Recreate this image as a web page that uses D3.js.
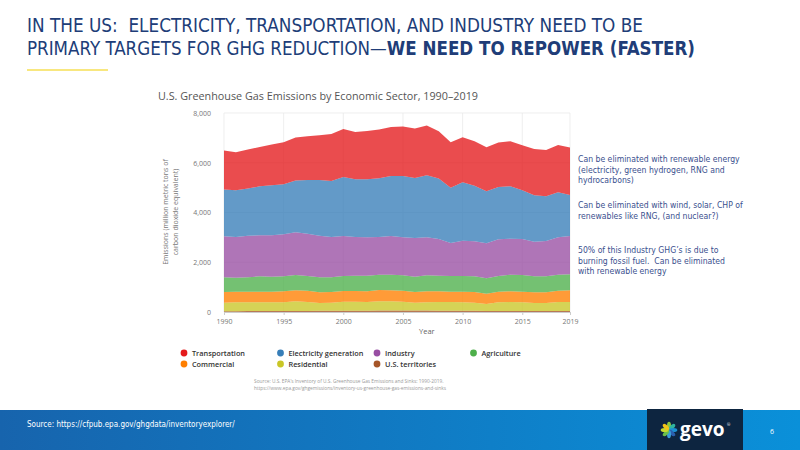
<!DOCTYPE html>
<html>
<head>
<meta charset="utf-8">
<script src="https://cdn.jsdelivr.net/npm/d3@7"></script>
<style>
  body { margin: 0; background: #fff; }
  svg { display: block; }
  text { white-space: pre; }
</style>
</head>
<body>
<svg id="slide" width="800" height="450"></svg>
<script>
// values (million metric tons CO2 eq.)
const years = d3.range(1990, 2020);
const transportation = [1568,1528,1568,1581,1635,1689,1729,1756,1797,1890,1930,1904,1944,1957,1971,1984,1984,1997,1903,1823,1810,1783,1769,1783,1809,1809,1863,1864,1904,1904];
const electricity = [1877,1877,1890,1971,2011,2011,2078,2158,2238,2252,2373,2319,2332,2359,2413,2466,2413,2493,2426,2225,2345,2238,2092,2105,2105,1957,1864,1796,1809,1649];
const industry = [1649,1635,1676,1649,1662,1689,1716,1702,1676,1622,1608,1555,1542,1515,1555,1529,1555,1529,1475,1327,1421,1408,1407,1474,1448,1448,1394,1421,1502,1541];
const agriculture = [590,563,576,616,603,603,617,590,603,590,603,616,630,616,630,616,617,643,630,630,630,630,617,630,670,670,643,643,643,644];
const commercial = [429,429,429,429,429,442,442,456,429,429,429,429,429,456,442,442,429,442,429,416,429,429,415,429,429,429,429,429,456,469];
const residential = [341,354,352,350,349,348,386,357,315,326,364,362,347,372,371,358,318,333,348,352,341,329,279,347,360,348,321,322,362,362];
const territories = [34,35,37,39,40,41,43,45,47,49,52,54,55,57,58,58,57,56,54,50,48,46,43,42,42,41,41,40,40,40];

const yTicks = [0, 2000, 4000, 6000, 8000];
const xTicks = [1990, 1995, 2000, 2005, 2010, 2015, 2019];

const sectors = [
  {key: "territories", name: "U.S. territories", color: "#a65628", values: territories},
  {key: "residential", name: "Residential", color: "#c9c626", values: residential},
  {key: "commercial", name: "Commercial", color: "#ff7f00", values: commercial},
  {key: "agriculture", name: "Agriculture", color: "#4daf4a", values: agriculture},
  {key: "industry", name: "Industry", color: "#984ea3", values: industry},
  {key: "electricity", name: "Electricity generation", color: "#377eb8", values: electricity},
  {key: "transportation", name: "Transportation", color: "#e41a1c", values: transportation}
];
const legendOrder = ["transportation", "electricity", "industry", "agriculture", "commercial", "residential", "territories"];

const notes = [
  {y: 159, lines: ["Can be eliminated with renewable energy", "(electricity, green hydrogen, RNG and", "hydrocarbons)"]},
  {y: 205, lines: ["Can be eliminated with wind, solar, CHP of", "renewables like RNG, (and nuclear?)"]},
  {y: 250, lines: ["50% of this Industry GHG\u2019s is due to", "burning fossil fuel.  Can be eliminated", "with renewable energy"]}
];

const svg = d3.select("#slide");
const navy = "#203d78";

// slide title
const title = svg.append("g")
  .style("font-family", "'Liberation Sans Narrow', 'DejaVu Sans Condensed', sans-serif")
  .style("font-size", "20px")
  .attr("fill", navy);
title.append("text").attr("x", 27).attr("y", 32)
  .attr("textLength", 616).attr("lengthAdjust", "spacingAndGlyphs")
  .text("IN THE US:  ELECTRICITY, TRANSPORTATION, AND INDUSTRY NEED TO BE");
const t2 = title.append("text").attr("x", 27).attr("y", 55)
  .attr("textLength", 668).attr("lengthAdjust", "spacingAndGlyphs");
t2.append("tspan").text("PRIMARY TARGETS FOR GHG REDUCTION\u2014");
t2.append("tspan").style("font-weight", "bold").text("WE NEED TO REPOWER (FASTER)");

svg.append("line")
  .attr("x1", 27).attr("x2", 108).attr("y1", 70).attr("y2", 70)
  .attr("stroke", "#f2d000").attr("stroke-width", 1.2);

// chart
const x = d3.scaleLinear().domain([1990, 2019]).range([224, 570]);
const y = d3.scaleLinear().domain([0, 8000]).range([312, 113]);

svg.append("text")
  .attr("x", 158).attr("y", 100)
  .attr("textLength", 320).attr("lengthAdjust", "spacingAndGlyphs")
  .style("font-family", "'Open Sans', sans-serif")
  .style("font-size", "11px")
  .attr("fill", "#555")
  .text("U.S. Greenhouse Gas Emissions by Economic Sector, 1990\u20132019");

const grid = svg.append("g").attr("stroke", "#e6e6e6").attr("stroke-width", 0.7);
grid.selectAll("line.v").data(xTicks).enter().append("line")
  .attr("x1", d => x(d)).attr("x2", d => x(d))
  .attr("y1", y(8000)).attr("y2", y(0));
grid.selectAll("line.h").data(yTicks).enter().append("line")
  .attr("x1", x(1990)).attr("x2", x(2019))
  .attr("y1", d => y(d)).attr("y2", d => y(d));

const rows = years.map((yr, i) => {
  const r = {year: yr};
  sectors.forEach(s => { r[s.key] = s.values[i]; });
  return r;
});
const stack = d3.stack().keys(sectors.map(s => s.key));
const series = stack(rows);

const area = d3.area()
  .x(d => x(d.data.year))
  .y0(d => y(d[0]))
  .y1(d => y(d[1]));

svg.append("g").selectAll("path")
  .data(series).enter().append("path")
  .attr("d", area)
  .attr("fill", (d, i) => sectors[i].color)
  .attr("fill-opacity", 0.78);

// axes
const yAxis = svg.append("g")
  .attr("transform", `translate(${x(1990) - 10},0)`)
  .call(d3.axisLeft(y).tickValues(yTicks).tickSize(0).tickFormat(d3.format(",")));
yAxis.select(".domain").remove();
yAxis.selectAll("text")
  .style("font-family", "'Open Sans', sans-serif").style("font-size", "7px").attr("fill", "#777");

const xAxis = svg.append("g")
  .attr("transform", `translate(0,${y(0)})`)
  .call(d3.axisBottom(x).tickValues(xTicks).tickSize(3).tickFormat(d3.format("d")));
xAxis.select(".domain").attr("stroke", "#ccc");
xAxis.selectAll(".tick line").attr("stroke", "#ccc");
xAxis.selectAll("text")
  .attr("dy", "0.9em")
  .style("font-family", "'Open Sans', sans-serif").style("font-size", "7px").attr("fill", "#777");

svg.append("text")
  .attr("x", x(2007)).attr("y", 334).attr("text-anchor", "middle")
  .style("font-family", "'Open Sans', sans-serif").style("font-size", "7.5px").attr("fill", "#666")
  .text("Year");

const yLab = svg.append("text")
  .attr("transform", "translate(168,212) rotate(-90)")
  .attr("text-anchor", "middle")
  .style("font-family", "'Open Sans', sans-serif").style("font-size", "7px").attr("fill", "#777");
yLab.append("tspan").attr("x", 0).attr("dy", 0).text("Emissions (million metric tons of");
yLab.append("tspan").attr("x", 0).attr("dy", "1.4em").text("carbon dioxide equivalent)");

// legend
const legend = svg.append("g")
  .style("font-family", "'Open Sans', sans-serif")
  .style("font-size", "7.3px")
  .style("font-weight", "600");
legendOrder.forEach((k, i) => {
  const s = sectors.find(d => d.key === k);
  const lx = 184 + (i % 4) * 96.5;
  const ly = 353 + Math.floor(i / 4) * 11;
  legend.append("circle").attr("cx", lx).attr("cy", ly).attr("r", 3.4).attr("fill", s.color);
  legend.append("text").attr("x", lx + 8).attr("y", ly).attr("dy", "0.35em")
    .attr("fill", "#333").text(s.name);
});

const src = svg.append("g")
  .style("font-family", "'Open Sans', sans-serif")
  .style("font-size", "4.8px")
  .attr("fill", "#9a9a9a");
src.append("text").attr("x", 254).attr("y", 383)
  .text("Source: U.S. EPA\u2019s Inventory of U.S. Greenhouse Gas Emissions and Sinks: 1990-2019.");
src.append("text").attr("x", 254).attr("y", 390)
  .text("https://www.epa.gov/ghgemissions/inventory-us-greenhouse-gas-emissions-and-sinks");

// annotations
const ann = svg.append("g")
  .style("font-family", "'DejaVu Sans Condensed', 'Liberation Sans', sans-serif")
  .style("font-size", "8.6px")
  .attr("fill", "#3a4f8e");
notes.forEach(n => {
  n.lines.forEach((l, j) => {
    ann.append("text").attr("x", 578).attr("y", n.y + 3 + j * 10.5).text(l);
  });
});

// footer band
const defs = svg.append("defs");
const grad = defs.append("linearGradient").attr("id", "band").attr("x1", "0").attr("x2", "1");
grad.append("stop").attr("offset", "0").attr("stop-color", "#1764ad");
grad.append("stop").attr("offset", "1").attr("stop-color", "#0a90d9");
svg.append("rect").attr("x", 0).attr("y", 410).attr("width", 800).attr("height", 40).attr("fill", "url(#band)");
svg.append("rect").attr("x", 647).attr("y", 409).attr("width", 96).attr("height", 41).attr("fill", "#0d2540");

svg.append("text").attr("x", 27).attr("y", 427)
  .style("font-family", "'Liberation Sans Narrow', 'DejaVu Sans Condensed', sans-serif")
  .style("font-size", "8px").attr("fill", "#fff")
  .text("Source: https://cfpub.epa.gov/ghgdata/inventoryexplorer/");

// gevo logo
const flower = svg.append("g").attr("transform", "translate(669,430)");
const petals = ["#8dc63f", "#2fb4a0", "#1b8fd1", "#2b5fae", "#3aa0d8", "#6cc04a", "#c6d92e", "#f2c417"];
petals.forEach((c, i) => {
  flower.append("ellipse")
    .attr("cx", 0).attr("cy", -4.3).attr("rx", 2).attr("ry", 4)
    .attr("transform", `rotate(${i * 45})`)
    .attr("fill", c);
});
svg.append("text").attr("x", 680).attr("y", 436)
  .style("font-family", "'Open Sans', sans-serif").style("font-weight", "bold")
  .style("font-size", "19px").attr("fill", "#fff")
  .text("gevo");
svg.append("text").attr("x", 727).attr("y", 426)
  .style("font-family", "'Open Sans', sans-serif").style("font-size", "4px").attr("fill", "#fff")
  .text("\u00ae");
svg.append("text").attr("x", 772).attr("y", 434).attr("text-anchor", "middle")
  .style("font-family", "'Open Sans', sans-serif").style("font-size", "7px").attr("fill", "#fff")
  .text("6");
</script>
</body>
</html>
